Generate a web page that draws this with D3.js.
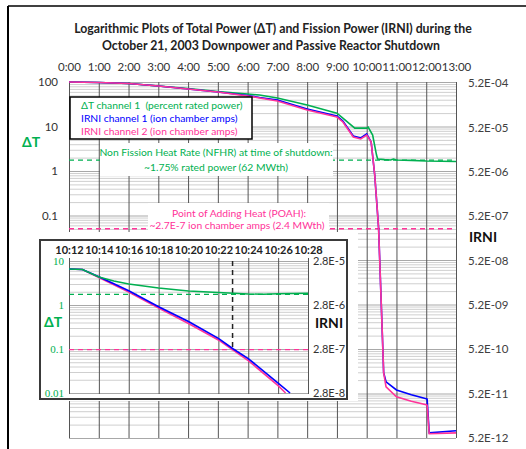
<!DOCTYPE html>
<html>
<head>
<meta charset="utf-8">
<script src="https://cdn.jsdelivr.net/npm/d3@7"></script>
<style>
  body { margin: 0; background: #fff; }
  svg { display: block; font-family: Lato, "Open Sans", sans-serif; }
</style>
</head>
<body>
<svg id="chart" width="526" height="449"></svg>
<script>
// main chart: hours since 0:00
var hourTicks = [0, 1, 2, 3, 4, 5, 6, 7, 8, 9, 10, 11, 12, 13];
var hourLabels = ["0:00", "1:00", "2:00", "3:00", "4:00", "5:00", "6:00", "7:00", "8:00", "9:00", "10:00", "11:00", "12:00", "13:00"];
var dtTicks = [100, 10, 1, 0.1];
var dtLabels = ["100", "10", "1", "0.1"];
var irniTicks = [5.2e-4, 5.2e-5, 5.2e-6, 5.2e-7, 5.2e-8, 5.2e-9, 5.2e-10, 5.2e-11, 5.2e-12];
var irniLabels = ["5.2E-04", "5.2E-05", "5.2E-06", "5.2E-07", "5.2E-08", "5.2E-09", "5.2E-10", "5.2E-11", "5.2E-12"];

var dtTime = [0, 1, 2, 3, 4, 5, 6, 6.4, 7, 8, 9, 9.2, 9.6, 10.0, 10.05, 10.2, 10.33, 10.37, 10.6, 10.8, 10.9, 11, 11.5, 12, 12.5, 13];
var dtValues = [100, 97.4, 92.5, 81.3, 71.4, 61.2, 53.7, 51.1, 43.7, 30.4, 20.0, 15.5, 9.2, 9.2, 9.7, 6.4, 2.28, 1.86, 1.8, 1.77, 1.86, 1.77, 1.73, 1.68, 1.66, 1.64];

var irni1Time = [0, 1, 2, 3, 4, 5, 6, 6.4, 7, 8, 9, 9.2, 9.55, 9.8, 10.0, 10.15, 10.27, 10.4, 10.52, 10.57, 10.65, 11, 11.5, 12, 12.03, 12.1, 13];
var irni1Values = [5.48e-4, 5.34e-4, 5.06e-4, 4.45e-4, 3.81e-4, 3.26e-4, 2.72e-4, 2.45e-4, 2.15e-4, 1.35e-4, 9.4e-5, 7.2e-5, 3.33e-5, 3.0e-5, 3.69e-5, 2.44e-5, 4.4e-6, 2.8e-7, 1.42e-9, 1.53e-10, 9.6e-11, 6.3e-11, 4.9e-11, 3.97e-11, 3.9e-11, 6.8e-12, 7.6e-12];

var irni2Time = [0, 1, 2, 3, 4, 5, 6, 6.4, 7, 8, 9, 9.2, 9.55, 9.8, 10.0, 10.15, 10.27, 10.4, 10.52, 10.57, 10.65, 11, 11.5, 12, 12.03, 12.1, 13];
var irni2Values = [5.48e-4, 5.34e-4, 5.06e-4, 4.45e-4, 3.81e-4, 3.26e-4, 2.65e-4, 2.39e-4, 2.05e-4, 1.28e-4, 8.9e-5, 6.9e-5, 3.16e-5, 2.85e-5, 3.5e-5, 2.44e-5, 4.4e-6, 2.8e-7, 1.42e-9, 1.53e-10, 7.4e-11, 4.4e-11, 3.49e-11, 2.91e-11, 2.85e-11, 6.5e-12, 6.8e-12];

var nfhrLevel = 1.75;   // percent rated power
var poahLevel = 2.7e-7; // ion chamber amps

// inset: minutes after 10:00
var zoomTicks = [12, 14, 16, 18, 20, 22, 24, 26, 28];
var zoomLabels = ["10:12", "10:14", "10:16", "10:18", "10:20", "10:22", "10:24", "10:26", "10:28"];
var zoomDtTicks = [10, 1, 0.1, 0.01];
var zoomDtLabels = ["10", "1", "0.1", "0.01"];
var zoomIrniTicks = [2.8e-5, 2.8e-6, 2.8e-7, 2.8e-8];
var zoomIrniLabels = ["2.8E-5", "2.8E-6", "2.8E-7", "2.8E-8"];

var zoomDtTime = [12, 12.9, 14, 15, 16, 18, 20, 22, 24, 25, 26, 28];
var zoomDtValues = [6.58, 6.4, 4.33, 3.51, 3.0, 2.43, 2.08, 1.92, 1.78, 1.76, 1.8, 1.85];
var zoomIrni1Time = [12, 12.9, 14, 16, 18, 20, 22, 23, 24, 26, 26.8];
var zoomIrni1Values = [1.84e-5, 1.79e-5, 1.23e-5, 5.9e-6, 2.55e-6, 1.18e-6, 4.9e-7, 2.8e-7, 1.7e-7, 4.7e-8, 2.8e-8];
var zoomIrni2Time = [12, 12.9, 14, 16, 18, 20, 22, 24, 26, 26.5];
var zoomIrni2Values = [1.84e-5, 1.79e-5, 1.18e-5, 5.5e-6, 2.4e-6, 1.06e-6, 4.5e-7, 1.53e-7, 4.1e-8, 2.8e-8];
var shutdownMinute = 22.95;

var green = "#00b050", blue = "#0000ff", pink = "#ff3399";

var svg = d3.select("#chart");

// outer frame
svg.append("line").attr("x1", 8).attr("y1", 6).attr("x2", 526).attr("y2", 6)
   .attr("stroke", "#000").attr("stroke-width", 1.5);
svg.append("line").attr("x1", 8).attr("y1", 6).attr("x2", 8).attr("y2", 449)
   .attr("stroke", "#000").attr("stroke-width", 2);

svg.append("text").attr("x", 273).attr("y", 33).attr("text-anchor", "middle")
   .attr("font-weight", "bold").attr("font-size", 12.3).attr("fill", "#222")
   .text("Logarithmic Plots of Total Power (\u0394T) and Fission Power (IRNI) during the");
svg.append("text").attr("x", 271).attr("y", 50).attr("text-anchor", "middle")
   .attr("font-weight", "bold").attr("font-size", 12.3).attr("fill", "#222")
   .text("October 21, 2003 Downpower and Passive Reactor Shutdown");

// ---- main chart ----
var x = d3.scaleLinear().domain([0, 13]).range([69, 456]);
var yDT = d3.scaleLog().domain([1e-6, 100]).range([438, 82]);
var yIR = d3.scaleLog().domain([5.2e-12, 5.2e-4]).range([438, 83]);

function isDecade(v) {
  var l = Math.log10(v);
  return Math.abs(l - Math.round(l)) < 1e-6;
}

var hgrid = svg.append("g")
   .attr("transform", "translate(69,0)")
   .call(d3.axisLeft(yDT).ticks(10).tickSize(-(456 - 69)).tickFormat(""));
hgrid.select(".domain").remove();
hgrid.selectAll(".tick line").attr("stroke", function(d) { return isDecade(d) ? "#a8a8a8" : "#cfcfcf"; });

var vgrid = svg.append("g")
   .attr("transform", "translate(0,438)")
   .call(d3.axisBottom(x).tickValues(hourTicks).tickSize(-(438 - 82)).tickFormat(""));
vgrid.select(".domain").remove();
vgrid.selectAll(".tick line").attr("stroke", "#555");

var topAxis = svg.append("g")
   .attr("transform", "translate(0,75)")
   .call(d3.axisTop(x).tickValues(hourTicks).tickSize(0).tickPadding(4)
           .tickFormat(function(d, i) { return hourLabels[i]; }));
topAxis.select(".domain").remove();
topAxis.selectAll("text").attr("font-size", 11.5).attr("fill", "#333").attr("font-family", "Lato");

var leftAxis = svg.append("g")
   .attr("transform", "translate(69,0)")
   .call(d3.axisLeft(yDT).tickValues(dtTicks).tickSize(0).tickPadding(11)
           .tickFormat(function(d, i) { return dtLabels[i]; }));
leftAxis.select(".domain").remove();
leftAxis.selectAll("text").attr("font-size", 11.5).attr("fill", "#333").attr("font-family", "Lato");

var rightAxis = svg.append("g")
   .attr("transform", "translate(456,0)")
   .call(d3.axisRight(yIR).tickValues(irniTicks).tickSize(0).tickPadding(12)
           .tickFormat(function(d, i) { return irniLabels[i]; }));
rightAxis.select(".domain").remove();
rightAxis.selectAll("text").attr("font-size", 11.5).attr("fill", "#404040").attr("font-family", "Lato");

svg.append("text").attr("x", 31).attr("y", 147).attr("text-anchor", "middle")
   .attr("font-weight", "bold").attr("font-size", 14).attr("fill", green).text("\u0394T");
svg.append("text").attr("x", 483).attr("y", 242).attr("text-anchor", "middle")
   .attr("font-weight", "bold").attr("font-size", 14).attr("fill", "#111").text("IRNI");

// reference levels
svg.append("line").attr("x1", x(0)).attr("x2", x(13))
   .attr("y1", yDT(nfhrLevel)).attr("y2", yDT(nfhrLevel))
   .attr("stroke", green).attr("stroke-width", 1.3).attr("stroke-dasharray", "5,4");
svg.append("line").attr("x1", x(0)).attr("x2", x(13))
   .attr("y1", yIR(poahLevel)).attr("y2", yIR(poahLevel))
   .attr("stroke", pink).attr("stroke-width", 1.3).attr("stroke-dasharray", "5,4");

// annotation boxes
svg.append("rect").attr("x", 100).attr("y", 143).attr("width", 233).attr("height", 33).attr("fill", "#fff");
svg.append("text").attr("x", 216).attr("y", 155.5).attr("text-anchor", "middle")
   .attr("font-size", 10.3).attr("fill", green).text("Non Fission Heat Rate (NFHR) at time of shutdown:");
svg.append("text").attr("x", 216).attr("y", 171).attr("text-anchor", "middle")
   .attr("font-size", 10.3).attr("fill", green).text("~1.75% rated power (62 MWth)");

svg.append("rect").attr("x", 148).attr("y", 203).attr("width", 181).attr("height", 33).attr("fill", "#fff");
svg.append("text").attr("x", 239).attr("y", 216.5).attr("text-anchor", "middle")
   .attr("font-size", 10.3).attr("fill", pink).text("Point of Adding Heat (POAH):");
svg.append("text").attr("x", 237).attr("y", 229).attr("text-anchor", "middle")
   .attr("font-size", 10.3).attr("fill", pink).text("~2.7E-7 ion chamber amps (2.4 MWth)");

// series
var lineDT = d3.line().x(function(d) { return x(d[0]); }).y(function(d) { return yDT(d[1]); });
var lineIR = d3.line().x(function(d) { return x(d[0]); }).y(function(d) { return yIR(d[1]); });

svg.append("path").datum(d3.zip(dtTime, dtValues)).attr("d", lineDT)
   .attr("fill", "none").attr("stroke", green).attr("stroke-width", 1.6);
svg.append("path").datum(d3.zip(irni1Time, irni1Values)).attr("d", lineIR)
   .attr("fill", "none").attr("stroke", blue).attr("stroke-width", 1.6);
svg.append("path").datum(d3.zip(irni2Time, irni2Values)).attr("d", lineIR)
   .attr("fill", "none").attr("stroke", pink).attr("stroke-width", 1.6);

// legend
svg.append("rect").attr("x", 70).attr("y", 97).attr("width", 182).attr("height", 42)
   .attr("fill", "#fff").attr("stroke", "#000").attr("stroke-width", 1.5);
var legendItems = [["\u0394T channel 1  (percent rated power)", green],
                   ["IRNI channel 1 (ion chamber amps)", blue],
                   ["IRNI channel 2 (ion chamber amps)", pink]];
svg.selectAll(".legend-text").data(legendItems).enter().append("text")
   .attr("class", "legend-text")
   .attr("x", 81).attr("y", function(d, i) { return 109 + i * 13; })
   .attr("font-size", 10.3).attr("fill", function(d) { return d[1]; })
   .attr("xml:space", "preserve")
   .text(function(d) { return d[0]; });

// ---- inset ----
var ix = d3.scaleLinear().domain([12, 28]).range([69, 308]);
var iyDT = d3.scaleLog().domain([0.01, 10]).range([393, 261]);
var iyIR = d3.scaleLog().domain([2.8e-8, 2.8e-5]).range([393, 261]);

var inset = svg.append("g");
inset.append("rect").attr("x", 38).attr("y", 232).attr("width", 320).attr("height", 169).attr("fill", "#fff");

svg.append("defs").append("clipPath").attr("id", "inset-right-clip")
   .append("rect").attr("x", 300).attr("y", 257).attr("width", 46).attr("height", 141);

var ihgrid = inset.append("g")
   .attr("transform", "translate(69,0)")
   .call(d3.axisLeft(iyDT).ticks(10).tickSize(-(308 - 69)).tickFormat(""));
ihgrid.select(".domain").remove();
ihgrid.selectAll(".tick line").attr("stroke", function(d) { return isDecade(d) ? "#a8a8a8" : "#cfcfcf"; });

var ivgrid = inset.append("g")
   .attr("transform", "translate(0,394)")
   .call(d3.axisBottom(ix).tickValues(zoomTicks).tickSize(-(394 - 258)).tickFormat(""));
ivgrid.select(".domain").remove();
ivgrid.selectAll(".tick line").attr("stroke", "#555");

inset.append("line").attr("x1", ix(12)).attr("x2", ix(28))
   .attr("y1", iyDT(nfhrLevel)).attr("y2", iyDT(nfhrLevel))
   .attr("stroke", green).attr("stroke-width", 1.3).attr("stroke-dasharray", "5,4");
inset.append("line").attr("x1", ix(12)).attr("x2", ix(28))
   .attr("y1", iyIR(poahLevel)).attr("y2", iyIR(poahLevel))
   .attr("stroke", pink).attr("stroke-width", 1.3).attr("stroke-dasharray", "5,4");
inset.append("line").attr("x1", ix(shutdownMinute)).attr("x2", ix(shutdownMinute))
   .attr("y1", iyDT(10)).attr("y2", iyIR(poahLevel))
   .attr("stroke", "#222").attr("stroke-width", 1.5).attr("stroke-dasharray", "5,4");

var ilineDT = d3.line().x(function(d) { return ix(d[0]); }).y(function(d) { return iyDT(d[1]); });
var ilineIR = d3.line().x(function(d) { return ix(d[0]); }).y(function(d) { return iyIR(d[1]); });

inset.append("path").datum(d3.zip(zoomIrni2Time, zoomIrni2Values)).attr("d", ilineIR)
   .attr("fill", "none").attr("stroke", pink).attr("stroke-width", 1.6);
inset.append("path").datum(d3.zip(zoomIrni1Time, zoomIrni1Values)).attr("d", ilineIR)
   .attr("fill", "none").attr("stroke", blue).attr("stroke-width", 1.6);
inset.append("path").datum(d3.zip(zoomDtTime, zoomDtValues)).attr("d", ilineDT)
   .attr("fill", "none").attr("stroke", green).attr("stroke-width", 1.4);

inset.append("rect").attr("x", 40).attr("y", 240).attr("width", 307).attr("height", 159)
   .attr("fill", "none").attr("stroke", "#3a3a3a").attr("stroke-width", 2);

var itop = inset.append("g")
   .attr("transform", "translate(0,258)")
   .call(d3.axisTop(ix).tickValues(zoomTicks).tickSize(0).tickPadding(4)
           .tickFormat(function(d, i) { return zoomLabels[i]; }));
itop.select(".domain").remove();
itop.selectAll("text").attr("font-size", 11).attr("font-weight", "bold").attr("fill", "#222").attr("font-family", "Lato");

var ileft = inset.append("g")
   .attr("transform", "translate(69,0)")
   .call(d3.axisLeft(iyDT).tickValues(zoomDtTicks).tickSize(0).tickPadding(5)
           .tickFormat(function(d, i) { return zoomDtLabels[i]; }));
ileft.select(".domain").remove();
ileft.selectAll("text").attr("font-size", 11).attr("fill", green).attr("font-family", "Liberation Serif, serif");

var iright = inset.append("g")
   .attr("clip-path", "url(#inset-right-clip)")
   .append("g")
   .attr("transform", "translate(308,0)")
   .call(d3.axisRight(iyIR).tickValues(zoomIrniTicks).tickSize(0).tickPadding(5)
           .tickFormat(function(d, i) { return zoomIrniLabels[i]; }));
iright.select(".domain").remove();
iright.selectAll("text").attr("font-size", 11).attr("fill", "#333").attr("font-family", "Lato");

inset.append("text").attr("x", 53).attr("y", 327).attr("text-anchor", "middle")
   .attr("font-weight", "bold").attr("font-size", 14).attr("fill", green).text("\u0394T");
inset.append("text").attr("x", 329).attr("y", 328).attr("text-anchor", "middle")
   .attr("font-weight", "bold").attr("font-size", 14).attr("fill", "#111").text("IRNI");
</script>
</body>
</html>
